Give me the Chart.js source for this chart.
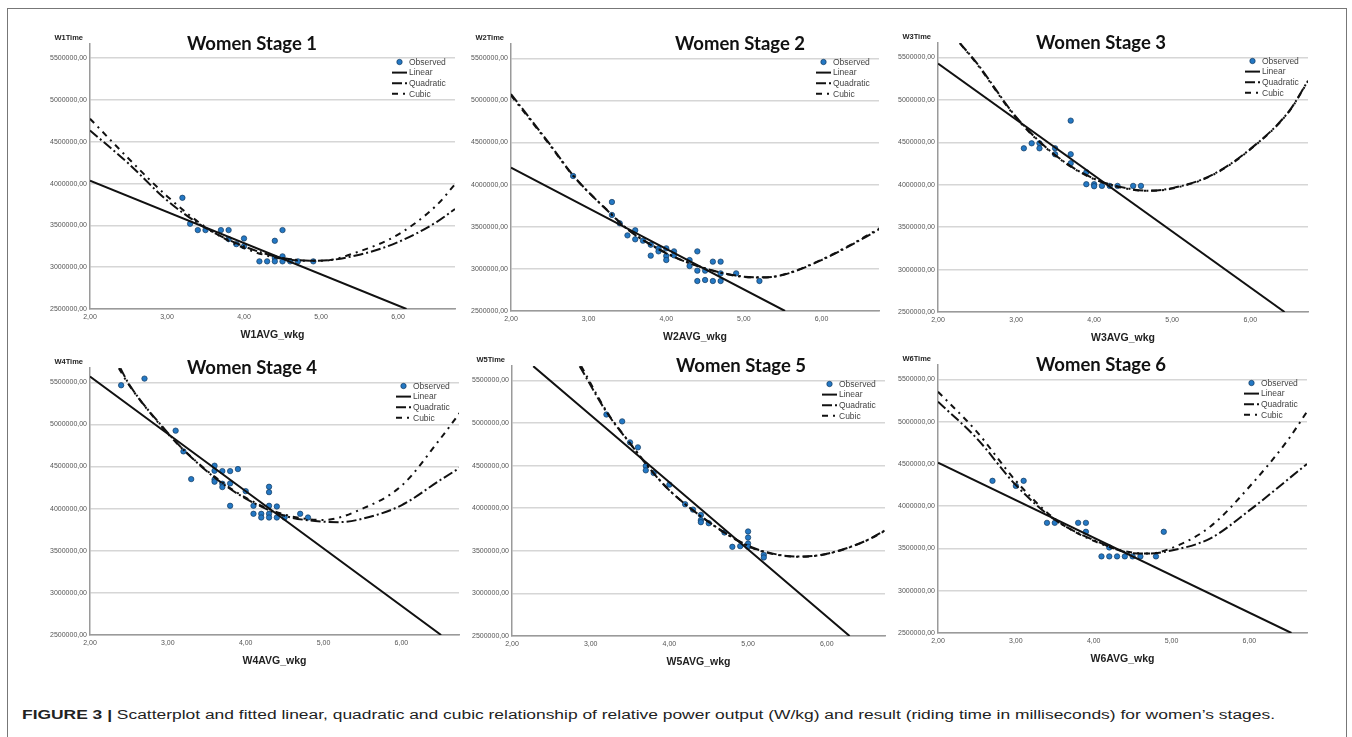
<!DOCTYPE html>
<html>
<head>
<meta charset="utf-8">
<script src="https://cdn.jsdelivr.net/npm/chart.js@4.4.0/dist/chart.umd.min.js"></script>
<style>
  body { margin: 0; background: #fff; width: 1352px; height: 737px; overflow: hidden; position: relative; }
  #frame { position: absolute; left: 7px; top: 8px; width: 1338px; height: 760px;
           border-left: 1.5px solid #777; border-top: 1.5px solid #777; border-right: 1.5px solid #777; }
  canvas { position: absolute; }
  #caption { position: absolute; left: 22px; top: 709px; white-space: nowrap; font-family: "Liberation Sans", Arial, sans-serif;
             font-size: 12px; line-height: 12px; color: #222; transform-origin: 0 0; }
</style>
</head>
<body>
<div id="frame"></div>
<canvas id="c1"></canvas>
<canvas id="c2"></canvas>
<canvas id="c3"></canvas>
<canvas id="c4"></canvas>
<canvas id="c5"></canvas>
<canvas id="c6"></canvas>
<div id="caption"><b>FIGURE 3 |</b> Scatterplot and fitted linear, quadratic and cubic relationship of relative power output (W/kg) and result (riding time in milliseconds) for women’s stages.</div>

<script>
// valeurs (x = W/kg, y = temps en ms)
const seriesNames = ['Observed', 'Linear', 'Quadratic', 'Cubic'];
const xTicks = [2, 3, 4, 5, 6];
const yTicks = [2500000, 3000000, 3500000, 4000000, 4500000, 5000000, 5500000];

// Stage 1
const w1Observed = [[3.2,3830000],[3.3,3520000],[3.4,3444000],[3.5,3444000],[3.7,3444000],[3.8,3444000],[3.8,3336000],
  [3.9,3276000],[4.0,3344000],[4.0,3250000],[4.2,3070000],[4.3,3070000],[4.4,3316000],[4.4,3110000],[4.4,3070000],
  [4.5,3444000],[4.5,3130000],[4.5,3070000],[4.6,3070000],[4.7,3070000],[4.9,3070000]];
const w1Linear = [[2,4036000],[6.11,2500000]];
const w1Quadratic = [[2,4636000],[2.5,4240000],[3,3800000],[3.5,3470000],[4,3250000],[4.5,3110000],[4.95,3076000],
  [5.5,3150000],[6,3300000],[6.5,3540000],[6.74,3696000]];
const w1Cubic = [[2,4776000],[2.5,4300000],[3,3850000],[3.5,3480000],[4,3230000],[4.5,3100000],[5,3076000],
  [5.5,3190000],[6,3390000],[6.5,3740000],[6.74,3992000]];

// Stage 2
const w2Observed = [[2.8,4103000],[3.3,3794000],[3.3,3640000],[3.4,3541000],[3.5,3398000],[3.6,3458000],[3.6,3351000],
  [3.7,3335000],[3.8,3287000],[3.8,3157000],[3.9,3244000],[3.9,3208000],[4.0,3244000],[4.0,3153000],[4.0,3105000],
  [4.1,3208000],[4.1,3161000],[4.3,3105000],[4.3,3034000],[4.4,3208000],[4.4,2979000],[4.4,2856000],[4.5,2979000],
  [4.5,2868000],[4.6,3086000],[4.6,2856000],[4.7,3086000],[4.7,2947000],[4.7,2856000],[4.9,2947000],[5.2,2856000]];
const w2Linear = [[2,4202000],[5.53,2500000]];
const w2Quadratic = [[2,5076000],[2.5,4480000],[2.8,4110000],[3.3,3640000],[3.5,3470000],[4,3185000],[4.5,3007000],
  [5,2908000],[5.25,2900000],[5.5,2927000],[6,3105000],[6.5,3343000],[6.74,3470000]];
const w2Cubic = [[2,5060000],[2.5,4470000],[2.8,4105000],[3.3,3645000],[3.5,3475000],[4,3190000],[4.5,3005000],
  [5,2905000],[5.25,2898000],[5.5,2930000],[6,3110000],[6.5,3350000],[6.74,3480000]];

// Stage 3
const w3Observed = [[3.1,4429000],[3.2,4488000],[3.3,4488000],[3.3,4429000],[3.5,4429000],[3.5,4359000],[3.7,4755000],
  [3.7,4359000],[3.7,4253000],[3.9,4147000],[3.9,4006000],[4.0,4006000],[4.0,3982000],[4.1,3986000],[4.2,3986000],
  [4.3,3986000],[4.5,3986000],[4.6,3986000]];
const w3Linear = [[2,5429000],[6.44,2500000]];
const w3Quadratic = [[2.28,5668000],[2.5,5430000],[3,4800000],[3.5,4350000],[4,4070000],[4.5,3945000],[4.7,3930000],
  [5,3960000],[5.5,4110000],[6,4420000],[6.5,4870000],[6.74,5225000]];
const w3Cubic = [[2.28,5668000],[2.5,5420000],[3,4790000],[3.5,4345000],[4,4065000],[4.5,3940000],[4.7,3928000],
  [5,3955000],[5.5,4105000],[6,4415000],[6.5,4865000],[6.74,5220000]];

// Stage 4
const w4Observed = [[2.4,5465000],[2.7,5544000],[3.1,4926000],[3.2,4680000],[3.3,4351000],[3.6,4510000],[3.6,4450000],
  [3.6,4347000],[3.6,4320000],[3.7,4446000],[3.7,4296000],[3.7,4256000],[3.8,4446000],[3.8,4300000],[3.8,4034000],
  [3.9,4470000],[4.0,4208000],[4.1,4034000],[4.1,3939000],[4.2,3939000],[4.2,3895000],[4.3,4260000],[4.3,4196000],
  [4.3,4034000],[4.3,3939000],[4.3,3895000],[4.4,4026000],[4.4,3895000],[4.5,3895000],[4.7,3939000],[4.8,3895000]];
const w4Linear = [[2,5568000],[6.51,2500000]];
const w4Quadratic = [[2.39,5668000],[2.5,5480000],[3,4900000],[3.2,4700000],[3.6,4370000],[4,4120000],[4.5,3915000],
  [5,3845000],[5.2,3840000],[5.5,3880000],[6,4040000],[6.5,4340000],[6.76,4490000]];
const w4Cubic = [[2.37,5668000],[2.5,5470000],[3,4890000],[3.2,4700000],[3.6,4380000],[4,4130000],[4.5,3930000],
  [5,3865000],[5.5,4000000],[6,4270000],[6.5,4830000],[6.76,5150000]];

// Stage 5
const w5Observed = [[3.2,5100000],[3.4,5020000],[3.5,4773000],[3.6,4715000],[3.7,4496000],[3.7,4445000],[3.8,4414000],
  [4.0,4277000],[4.2,4047000],[4.3,3984000],[4.4,3922000],[4.4,3860000],[4.4,3836000],[4.5,3824000],[4.7,3715000],
  [4.8,3547000],[4.9,3555000],[5.0,3727000],[5.0,3656000],[5.0,3586000],[5.0,3547000],[5.2,3453000],[5.2,3422000]];
const w5Linear = [[2.27,5668000],[6.29,2500000]];
const w5Quadratic = [[2.86,5668000],[3.2,5130000],[3.5,4760000],[3.8,4410000],[4,4210000],[4.5,3840000],[5,3560000],
  [5.3,3470000],[5.65,3432000],[6,3465000],[6.5,3620000],[6.74,3740000]];
const w5Cubic = [[2.88,5668000],[3.2,5140000],[3.5,4765000],[3.8,4412000],[4,4212000],[4.5,3838000],[5,3555000],
  [5.3,3465000],[5.65,3430000],[6,3462000],[6.5,3618000],[6.74,3735000]];

// Stage 6
const w6Observed = [[2.7,4300000],[3.0,4240000],[3.1,4300000],[3.4,3803000],[3.5,3803000],[3.8,3803000],[3.9,3803000],
  [3.9,3697000],[4.1,3406000],[4.2,3512000],[4.2,3406000],[4.3,3406000],[4.4,3406000],[4.5,3406000],[4.6,3406000],
  [4.8,3406000],[4.9,3697000]];
const w6Linear = [[2,4516000],[6.54,2500000]];
const w6Quadratic = [[2,5236000],[2.5,4800000],[3,4250000],[3.5,3840000],[4,3600000],[4.5,3445000],[4.7,3440000],
  [5,3476000],[5.5,3620000],[6,3950000],[6.5,4320000],[6.74,4500000]];
const w6Cubic = [[2,5354000],[2.5,4880000],[3,4300000],[3.5,3850000],[4,3590000],[4.5,3450000],[4.7,3440000],
  [5,3504000],[5.5,3760000],[6,4230000],[6.5,4790000],[6.74,5118000]];

// mise en page : [gauche, haut, largeur, hauteur] de la zone de tracé
const stages = [
  { id: 'c1', title: 'Women Stage 1', yName: 'W1Time', xName: 'W1AVG_wkg', obs: w1Observed, lin: w1Linear, quad: w1Quadratic, cub: w1Cubic, box: [90, 44, 365, 265], titleDx: 162 },
  { id: 'c2', title: 'Women Stage 2', yName: 'W2Time', xName: 'W2AVG_wkg', obs: w2Observed, lin: w2Linear, quad: w2Quadratic, cub: w2Cubic, box: [511, 44, 368, 267], titleDx: 229 },
  { id: 'c3', title: 'Women Stage 3', yName: 'W3Time', xName: 'W3AVG_wkg', obs: w3Observed, lin: w3Linear, quad: w3Quadratic, cub: w3Cubic, box: [938, 43, 370, 269], titleDx: 163 },
  { id: 'c4', title: 'Women Stage 4', yName: 'W4Time', xName: 'W4AVG_wkg', obs: w4Observed, lin: w4Linear, quad: w4Quadratic, cub: w4Cubic, box: [90, 368, 369, 267], titleDx: 162 },
  { id: 'c5', title: 'Women Stage 5', yName: 'W5Time', xName: 'W5AVG_wkg', obs: w5Observed, lin: w5Linear, quad: w5Quadratic, cub: w5Cubic, box: [512, 366, 373, 270], titleDx: 229 },
  { id: 'c6', title: 'Women Stage 6', yName: 'W6Time', xName: 'W6AVG_wkg', obs: w6Observed, lin: w6Linear, quad: w6Quadratic, cub: w6Cubic, box: [938, 365, 369, 268], titleDx: 163 }
];

const Y_AXIS_W = 70, X_AXIS_H = 40, PAD_T = 24, PAD_R = 10;
const FONT = '"Liberation Sans", Arial, sans-serif';
Chart.defaults.font.family = FONT;

const toPts = arr => arr.map(p => ({ x: p[0], y: p[1] }));
const fmt = v => Number(v).toFixed(2).replace('.', ',');

// titre, nom de l'axe Y et légende dessinés dans la zone du graphique
const panelText = {
  id: 'panelText',
  afterDraw(chart, args, opts) {
    const { ctx, chartArea: a } = chart;
    ctx.save();
    ctx.font = 'bold 7.5px ' + FONT;
    ctx.fillStyle = '#222';
    ctx.textAlign = 'right';
    ctx.textBaseline = 'middle';
    ctx.fillText(opts.yName, a.left - 7, a.top - 6);

    ctx.font = 'bold 18.5px Lato, "Open Sans", sans-serif';
    ctx.fillStyle = '#111';
    ctx.textAlign = 'center';
    ctx.fillText(opts.title, a.left + opts.titleDx, a.top);

    // légende, dans l'ordre Observed, Linear, Quadratic, Cubic
    const x0 = a.right - 63;
    ctx.font = '8.5px ' + FONT;
    ctx.textAlign = 'left';
    seriesNames.forEach((name, i) => {
      const ds = chart.data.datasets.find(d => d.label === name);
      const y = a.top + 18 + i * 10.6;
      if (ds.showLine === false) {
        ctx.beginPath();
        ctx.arc(x0 + 7.5, y, ds.pointRadius, 0, Math.PI * 2);
        ctx.fillStyle = ds.backgroundColor;
        ctx.fill();
        ctx.lineWidth = ds.borderWidth;
        ctx.strokeStyle = ds.borderColor;
        ctx.stroke();
      } else {
        ctx.beginPath();
        ctx.setLineDash(ds.borderDash || []);
        ctx.lineWidth = ds.borderWidth;
        ctx.strokeStyle = ds.borderColor;
        ctx.moveTo(x0, y);
        ctx.lineTo(x0 + 15, y);
        ctx.stroke();
        ctx.setLineDash([]);
      }
      ctx.fillStyle = '#444';
      ctx.fillText(name, x0 + 17, y + 0.5);
    });
    ctx.restore();
  }
};

stages.forEach(st => {
  const [L, T, W, H] = st.box;
  const cv = document.getElementById(st.id);
  cv.width = Y_AXIS_W + W + PAD_R;
  cv.height = PAD_T + H + X_AXIS_H;
  cv.style.left = (L - Y_AXIS_W) + 'px';
  cv.style.top = (T - PAD_T) + 'px';

  const lineDs = (label, pts, dash) => ({
    label, data: toPts(pts), showLine: true, borderColor: '#111', borderWidth: 2,
    borderDash: dash, pointRadius: 0, cubicInterpolationMode: 'monotone', backgroundColor: '#111'
  });

  new Chart(cv, {
    type: 'scatter',
    data: {
      // le premier jeu est dessiné en dernier : les courbes passent sur les points
      datasets: [
        lineDs(seriesNames[1], st.lin, []),
        lineDs(seriesNames[2], st.quad, [10, 3, 2, 3]),
        lineDs(seriesNames[3], st.cub, [6, 5, 2, 5]),
        {
          label: seriesNames[0], data: toPts(st.obs), showLine: false,
          pointRadius: 2.7, borderWidth: 0.7, backgroundColor: '#2478c4', borderColor: '#123a5e'
        }
      ]
    },
    options: {
      responsive: false,
      animation: false,
      events: [],
      layout: { padding: { top: PAD_T, right: PAD_R, left: 0, bottom: 0 } },
      plugins: {
        legend: { display: false },
        tooltip: { enabled: false },
        panelText: { title: st.title, yName: st.yName, titleDx: st.titleDx }
      },
      scales: {
        x: {
          type: 'linear', min: 2, max: 6.74,
          afterFit: s => { s.height = X_AXIS_H; },
          afterBuildTicks: s => { s.ticks = xTicks.map(v => ({ value: v })); },
          grid: { drawOnChartArea: false, drawTicks: false },
          border: { color: '#9a9a9a', width: 1.5 },
          ticks: { font: { size: 7 }, color: '#555', padding: 4, maxRotation: 0, autoSkip: false, callback: v => fmt(v) },
          title: { display: true, text: st.xName, font: { size: 10.5, weight: 'bold' }, color: '#222', padding: { top: 0, bottom: 8 } }
        },
        y: {
          type: 'linear', min: 2500000, max: 5670000,
          afterFit: s => { s.width = Y_AXIS_W; },
          afterBuildTicks: s => { s.ticks = yTicks.map(v => ({ value: v })); },
          grid: { color: '#d6d6d6', lineWidth: 1.5, drawTicks: false },
          border: { color: '#9a9a9a', width: 1.5 },
          ticks: { font: { size: 7 }, color: '#555', padding: 3, callback: v => fmt(v) }
        }
      }
    },
    plugins: [panelText]
  });
});

// la légende de la figure est étirée horizontalement comme dans l'original
const cap = document.getElementById('caption');
const w = cap.getBoundingClientRect().width;
cap.style.transform = 'scaleX(' + (1253 / w) + ')';
</script>
</body>
</html>
